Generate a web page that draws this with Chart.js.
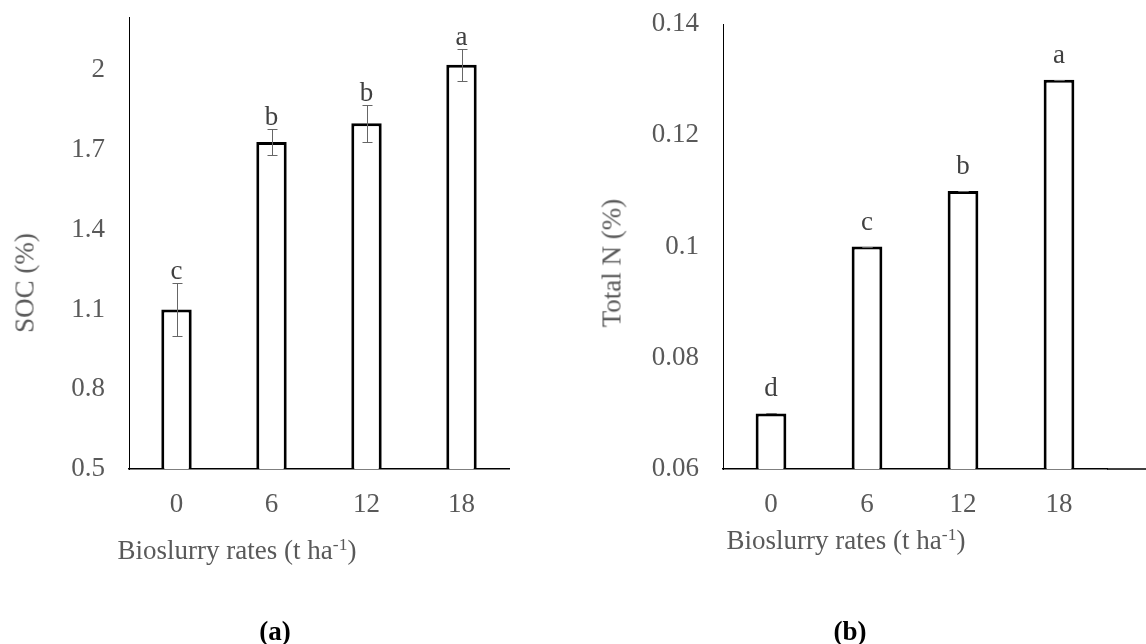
<!DOCTYPE html>
<html>
<head>
<meta charset="utf-8">
<script src="https://cdn.jsdelivr.net/npm/chart.js@4.4.0/dist/chart.umd.min.js"></script>
<style>
  body { margin: 0; background: #fff; }
  #wrap { position: relative; width: 1146px; height: 644px; overflow: hidden; font-family: "Liberation Serif", "Times New Roman", serif; }
  canvas { position: absolute; top: 0; }
  #socChart { left: 0; }
  #nChart { left: 580px; }
  .lbl { position: absolute; color: #595959; font-size: 27px; line-height: 1; white-space: nowrap; transform: translate(-50%, -50%); }
  .lbl sup { font-size: 0.65em; line-height: 0; vertical-align: 0.5em; }
  .rot { transform: translate(-50%, -50%) rotate(-90deg); }
  .cap { color: #000; font-weight: bold; }
</style>
</head>
<body>
<div id="wrap">
  <canvas id="socChart" width="560" height="644"></canvas>
  <canvas id="nChart" width="566" height="644"></canvas>
  <div class="lbl rot" style="left:25px; top:283px;">SOC (%)</div>
  <div class="lbl rot" style="left:612px; top:263px;">Total N (%)</div>
  <div class="lbl" style="left:237px; top:550px;">Bioslurry rates (t ha<sup>-1</sup>)</div>
  <div class="lbl" style="left:846px; top:540px;">Bioslurry rates (t ha<sup>-1</sup>)</div>
  <div class="lbl cap" style="left:275px; top:631px;">(a)</div>
  <div class="lbl cap" style="left:850px; top:631px;">(b)</div>
</div>
<script>
// bioslurry rates (t/ha)
const rates = ['0', '6', '12', '18'];

// (a) soil organic carbon
const socValues = [1.10, 1.73, 1.80, 2.02];
const socErrors = [0.10, 0.05, 0.07, 0.06];
const socLetters = ['c', 'b', 'b', 'a'];
const socTicks = [0.5, 0.8, 1.1, 1.4, 1.7, 2.0];

// (b) total nitrogen
const nValues = [0.07, 0.10, 0.11, 0.13];
const nErrors = [0, 0, 0, 0];
const nLetters = ['d', 'c', 'b', 'a'];
const nTicks = [0.06, 0.08, 0.10, 0.12, 0.14];

const serif = '"Liberation Serif", "Times New Roman", serif';
const tickFont = { family: serif, size: 27 };

// error bars + significance letters, drawn from the y scale
function marksPlugin(errors, letters, gap) {
    return {
        id: 'marks',
        afterDatasetsDraw(chart) {
            const ctx = chart.ctx;
            const y = chart.scales.y;
            const vals = chart.data.datasets[0].data;
            ctx.save();
            chart.getDatasetMeta(0).data.forEach(function(bar, i) {
                const hi = Math.round(y.getPixelForValue(vals[i] + errors[i])) + 0.5;
                const lo = Math.round(y.getPixelForValue(vals[i] - errors[i])) + 0.5;
                const x = Math.round(bar.x) + 0.5;
                ctx.strokeStyle = '#666';
                ctx.lineWidth = 1;
                ctx.beginPath();
                ctx.moveTo(x, hi); ctx.lineTo(x, lo);
                ctx.moveTo(x - 5, hi); ctx.lineTo(x + 5, hi);
                ctx.moveTo(x - 5, lo); ctx.lineTo(x + 5, lo);
                ctx.stroke();

                ctx.fillStyle = '#404040';
                ctx.font = '27px ' + serif;
                ctx.textAlign = 'center';
                ctx.textBaseline = 'alphabetic';
                ctx.fillText(letters[i], bar.x, hi - gap);
            });
            ctx.restore();
        }
    };
}

// x axis line runs on to the right edge in panel (b)
const longBaseline = {
    id: 'longBaseline',
    afterDraw(chart) {
        const ctx = chart.ctx;
        const a = chart.chartArea;
        ctx.save();
        ctx.strokeStyle = '#000';
        ctx.lineWidth = 1.5;
        ctx.beginPath();
        ctx.moveTo(a.right, a.bottom);
        ctx.lineTo(chart.width, a.bottom);
        ctx.stroke();
        ctx.restore();
    }
};

function makeChart(id, values, yMin, yMax, tickVals, yWidth, padTop, padRight, plugins) {
    return new Chart(document.getElementById(id), {
        type: 'bar',
        data: {
            labels: rates,
            datasets: [{
                data: values,
                backgroundColor: '#fff',
                borderColor: '#000',
                borderWidth: 3,
                barPercentage: 0.32,
                categoryPercentage: 1
            }]
        },
        options: {
            responsive: false,
            animation: false,
            layout: { padding: { left: 0, top: padTop, right: padRight, bottom: 0 } },
            plugins: {
                legend: { display: false },
                tooltip: { enabled: false }
            },
            scales: {
                x: {
                    grid: { display: false, drawTicks: false },
                    border: { color: '#000', width: 1.5 },
                    ticks: { color: '#595959', font: tickFont, padding: 20 },
                    afterFit: function(scale) { scale.height = 175; }
                },
                y: {
                    min: yMin,
                    max: yMax,
                    grid: { display: false, drawTicks: false },
                    border: { color: '#000', width: 1 },
                    ticks: {
                        color: '#595959',
                        font: tickFont,
                        padding: 24,
                        callback: function(v) { return String(+v.toFixed(2)); }
                    },
                    afterBuildTicks: function(scale) {
                        scale.ticks = tickVals.map(function(v) { return { value: v }; });
                    },
                    afterFit: function(scale) {
                        scale.width = yWidth;
                        // tick padding should not push the plot down
                        scale.paddingTop = 0;
                        scale.paddingBottom = 0;
                    }
                }
            }
        },
        plugins: plugins
    });
}

makeChart('socChart', socValues, 0.5, 2.2, socTicks, 129, 17, 51,
    [marksPlugin(socErrors, socLetters, 5)]);
makeChart('nChart', nValues, 0.06, 0.14, nTicks, 143, 24, 39,
    [marksPlugin(nErrors, nLetters, 18), longBaseline]);
</script>
</body>
</html>
